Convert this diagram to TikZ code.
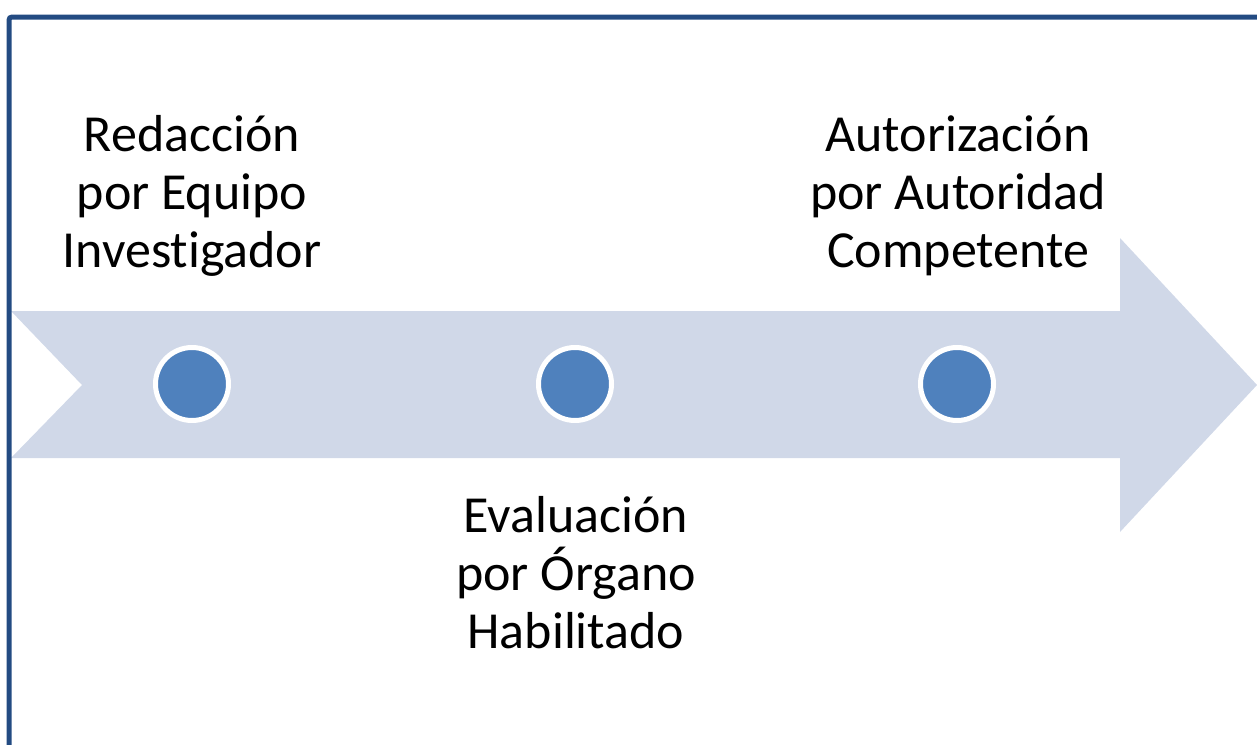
\documentclass[tikz,border=0pt]{standalone}
\usepackage{fontspec}
\setmainfont{Carlito}[RawFeature=-liga]
\definecolor{bandcol}{HTML}{D0D8E8}
\definecolor{dotcol}{HTML}{4F81BD}
\definecolor{framecol}{HTML}{234B82}
\begin{document}
\begin{tikzpicture}[x=1pt,y=-1pt,
  dot/.style={circle,fill=dotcol,draw=white,line width=5pt,minimum size=73pt,inner sep=0pt},
  lbl/.style={anchor=base,inner sep=0pt,font=\fontsize{52}{58}\selectfont,text=black}]
\useasboundingbox (0,0) rectangle (1257,744);
\clip (0,0) rectangle (1257,744);
% band arrow
\fill[bandcol] (11,311) -- (1120,311) -- (1120,238) -- (1257,385) -- (1120,532) -- (1120,458) -- (11,458) -- (82,385) -- cycle;
% frame
\draw[framecol,line width=5pt,rounded corners=3pt] (9,760) -- (9,17) -- (1270,17);
% dots
\node[dot] (d1) at (192,384) {};
\node[dot] (d2) at (575,384) {};
\node[dot] (d3) at (957,384) {};
% labels
\node[lbl] (a1) at (192,151) {Redacción};
\node[lbl] (a2) at (192,209) {por Equipo};
\node[lbl] (a3) at (192,267) {Investigador};
\node[lbl] (b1) at (576,532) {Evaluación};
\node[lbl] (b2) at (576,590) {por Órgano};
\node[lbl] (b3) at (576,648) {Habilitado};
\node[lbl] (c1) at (958,151) {Autorización};
\node[lbl] (c2) at (958,209) {por Autoridad};
\node[lbl] (c3) at (958,267) {Competente};
\end{tikzpicture}
\end{document}
